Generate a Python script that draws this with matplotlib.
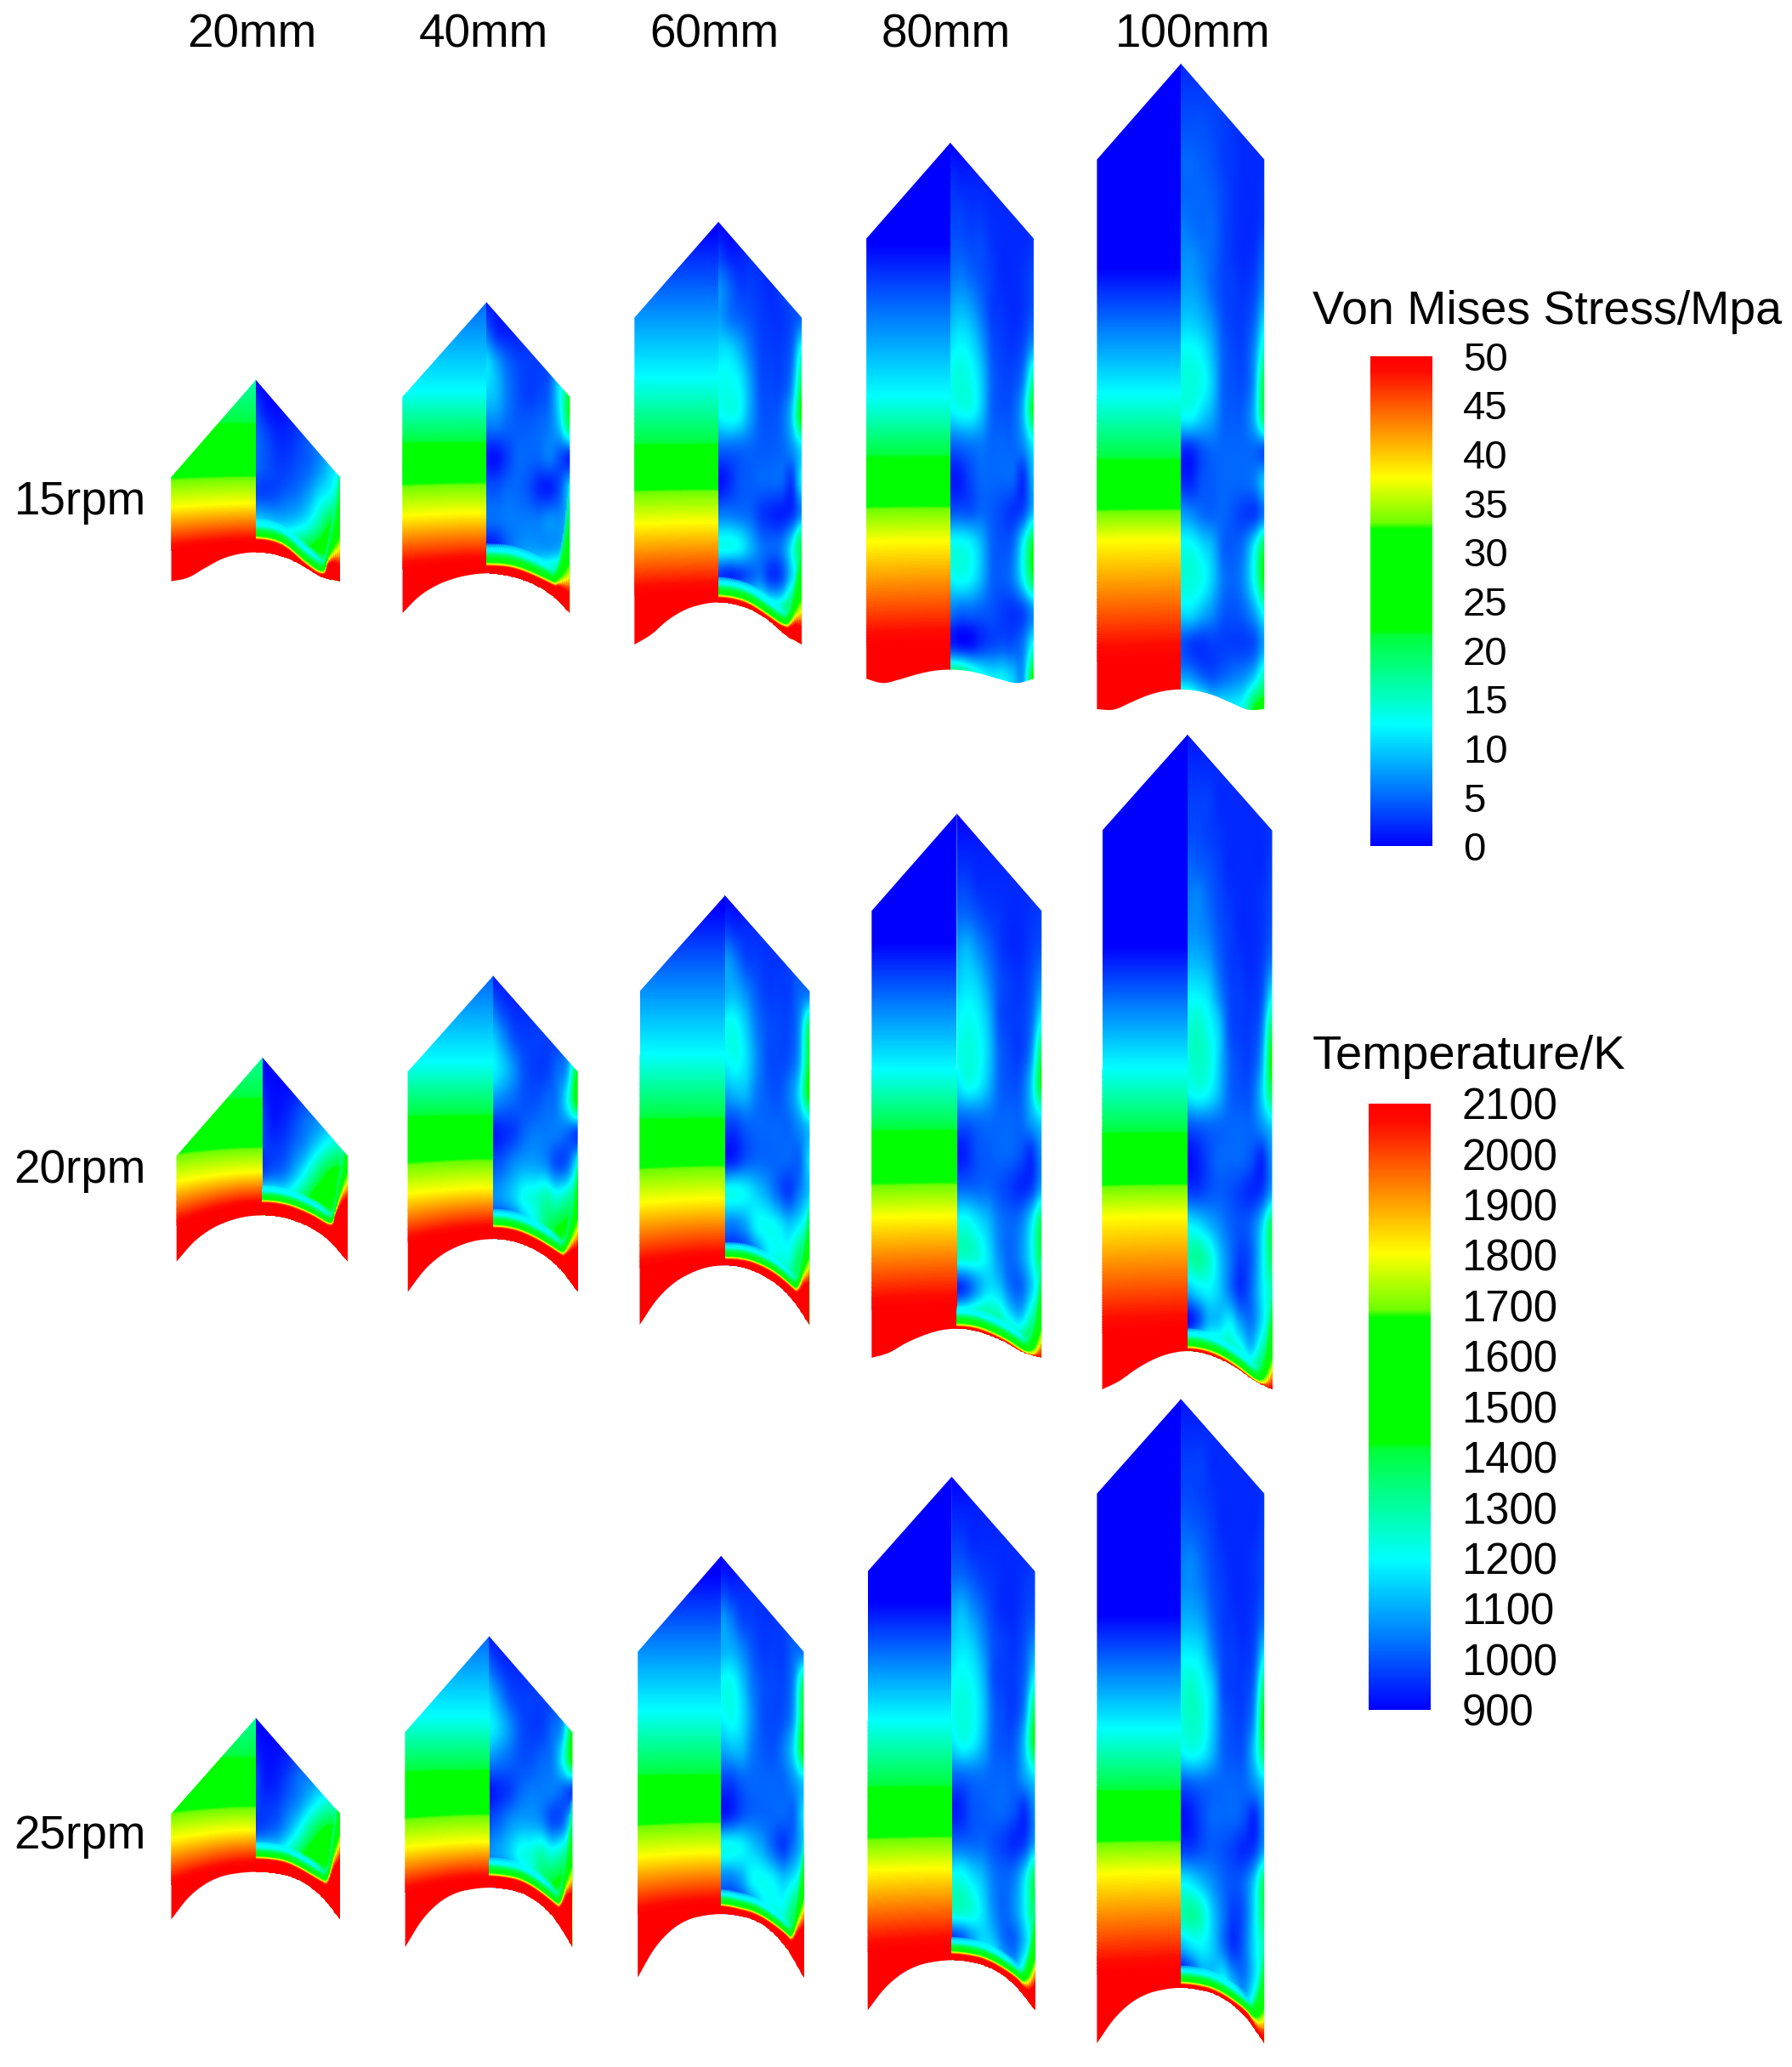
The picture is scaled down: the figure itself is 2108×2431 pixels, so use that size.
import numpy as np
import matplotlib
matplotlib.use('Agg')
import matplotlib.pyplot as plt
from matplotlib.cm import ScalarMappable
from matplotlib.colors import LinearSegmentedColormap, Normalize
from matplotlib.patches import PathPatch
from matplotlib.path import Path

plt.rcParams['font.family'] = ['Liberation Sans', 'DejaVu Sans']

col_labels = ['20mm', '40mm', '60mm', '80mm', '100mm']
row_labels = ['15rpm', '20rpm', '25rpm']
stress_ticks = [0, 5, 10, 15, 20, 25, 30, 35, 40, 45, 50]
temp_ticks = [900, 1000, 1100, 1200, 1300, 1400, 1500, 1600, 1700, 1800, 1900, 2000, 2100]

# panel outline, read in the 1360 wide picture: one line per rpm, one value per length
left_x = [[130, 306, 481, 657, 833], [134, 310, 485, 661, 837], [130, 307, 484, 658, 833]]
center_x = [[194, 369, 545, 721, 896], [199, 374, 550, 726, 901], [194, 371, 547, 722, 896]]
right_x = [[258, 433, 608, 784, 960], [264, 439, 614, 790, 966], [258, 434, 610, 785, 960]]
apex_y = [[288, 229, 168, 108, 48], [802, 740, 679, 617, 557], [1303, 1241, 1180, 1120, 1061]]
shoulder_y = [[362, 301, 241, 181, 121], [877, 813, 752, 691, 630], [1376, 1314, 1253, 1192, 1133]]
corner_y = [[441, 465, 489, 515, 538], [957, 980, 1005, 1030, 1054], [1456, 1477, 1500, 1525, 1550]]
arc_top_y = [[419, 435, 457, 508, 523], [922, 940, 960, 1008, 1025], [1420, 1432, 1452, 1487, 1508]]

# how far the arc has dropped (0 top, 1 corner) at these distances from the centre
arc_u = [0, 0.2, 0.4, 0.6, 0.8, 1]
arc_drop = [
    [[0, .06, .23, .54, .87, 1], [0, .04, .14, .31, .58, 1], [0, .05, .18, .42, .76, 1],
     [0, .13, .52, 1.05, 1.45, 1], [0, .08, .31, .67, 1.02, 1]],
    [[0, .03, .13, .3, .58, 1], [0, .03, .13, .3, .58, 1], [0, .03, .13, .3, .58, 1],
     [0, .06, .24, .5, .83, 1], [0, .06, .22, .47, .78, 1]],
    [[0, .025, .095, .26, .55, 1], [0, .025, .095, .26, .55, 1], [0, .025, .095, .26, .55, 1],
     [0, .03, .11, .28, .57, 1], [0, .03, .11, .28, .57, 1]],
]

# left half: y of the temperature levels on the centre line, bottom to top
temp_levels = [2100, 1800, 1692, 1676, 1400, 1200, 900]
temp_y = [
    [[412, 382, 363, 361, 318, 262, 180], [427, 389, 368, 366, 333, 297, 185], [449, 396, 373, 371, 334, 287, 175],
     [488, 410, 386, 384, 343, 301, 185], [500, 409, 388, 386, 345, 299, 203]],
    [[914, 889, 872, 870, 830, 770, 680], [933, 901, 881, 879, 843, 806, 700], [955, 909, 886, 884, 845, 800, 690],
     [991, 922, 899, 897, 854, 812, 715], [1009, 922, 900, 898, 856, 811, 718]],
    [[1415, 1388, 1372, 1370, 1330, 1270, 1180], [1426, 1397, 1378, 1376, 1340, 1302, 1200],
     [1445, 1405, 1384, 1382, 1343, 1298, 1195], [1477, 1417, 1395, 1393, 1352, 1305, 1215],
     [1495, 1420, 1398, 1396, 1355, 1312, 1225]],
]
temp_bow = [[6, 5, 3, 2, 2], [16, 10, 7, 3, 3], [15, 10, 7.5, 4, 3]]
bow_u = [0, .25, .5, .75, 1]
bow_shape = [0, .08, .3, .62, 1]
bow_level = [1, .45, .3, .3, .1, 0, 0]

# layer along the arc on the stress side: height of the yellow line above the arc
band_u = [0, .3, .6, .8, .86, .93, 1]
band_grow = [1, 1, 1, 1, 1.6, 4, 8]
yellow_height = [
    [[11, 10, 4, 4, 14, 20, 24], [7, 8, 8, 10, 14, 20, 27], [5, 5, 4, 7, 11, 19, 25],
     [0, 0, 0, 0, 0, 0, 0], [0, 0, 0, 0, 0, 0, 0]],
    [[11, 11, 11, 14, 28, 46, 60], [10, 10, 10, 13, 19, 32, 46], [6, 7, 8, 10, 14, 30, 44],
     [3, 3, 2, 1, 1, 3, 13], [3, 3, 2, 1, 1, 4, 14]],
    [[11, 11, 10, 13, 19, 40, 57], [10, 10, 10, 13, 19, 38, 53], [7, 6, 7, 11, 15, 33, 51],
     [6, 6, 6, 8, 9, 16, 31], [4, 4, 4, 6, 6, 9, 17]],
]
band_gap = [[11, 12, 11, 0, 0], [9, 10, 9, 11, 11], [9, 10, 9, 9, 10]]
layer_stress = [50, 50, 37.6, 32.4, 21.7, 12.4, 12.4]
layer_gap = [0, 0, .12, .45, .85, 1.3]
red_drop = 1.5

# right half: stress in MPa, rows from apex to corner, columns from centre to outer edge
s15_20 = [[0, 0, 0, 0, 0, 0, 0, 0, 0],
          [3, 1, .5, 1, 2, 3, 4, 5, 5],
          [5, 3.5, 2, 2, 3, 4.5, 6, 8, 9],
          [5, 4, 3, 3, 4, 5, 7, 10, 12],
          [3.5, 3.5, 4, 5, 6, 8, 11, 13, 17],
          [12, 11, 10, 10, 11, 13, 17, 22, 25],
          [24, 23, 22, 22, 23, 24, 26, 28, 30],
          [28, 28, 28, 28, 28, 28, 28, 28, 28]]
s25_20 = [[0, 0, 0, 0, 0, 0, 0, 0, 0],
          [1, .5, .5, 1, 2, 3, 3, 3, 3],
          [3, 1, 1.5, 3, 5, 6, 7, 8, 9],
          [3, 2.5, 3, 5, 7, 10, 13, 15, 14],
          [4, 5, 6, 9, 13, 18, 22, 24, 24],
          [20, 18, 16, 18, 22, 26, 28, 30, 32],
          [24, 24, 24, 26, 28, 30, 30, 30, 38],
          [35, 35, 35, 35, 35, 35, 35, 35, 35]]
s15_40 = [[1, 1, 1, 1, 1, 1, 1, 1, 1],
          [5, 2, 1.5, 1.5, 2, 3, 5, 7, 9],
          [11, 8, 5, 3.5, 3, 3, 4, 10, 12],
          [10, 9, 6, 4, 3, 3.5, 5, 12, 22],
          [6, 6, 5, 4.5, 4.5, 5, 6, 10, 20],
          [1, 1, 3, 5, 5, 5, 6, 4, 2],
          [4, 4, 5, 5, 4, 2, 1.5, 4, 10],
          [5.5, 5.5, 6, 6, 6, 6, 7, 7, 9],
          [1, 2, 5, 7, 8, 8, 8, 9, 12],
          [12, 12, 12, 12, 14, 18, 22, 24, 28],
          [28, 28, 28, 28, 28, 28, 28, 28, 28]]
s25_40 = [[1, 1, 1, 1, 1, 1, 1, 1, 1],
          [5, 3, 2, 2, 2, 3, 3, 4, 5],
          [10, 7, 4, 3, 3, 3, 3, 5, 6],
          [12, 10, 7, 4, 3, 3, 5, 8, 22],
          [7, 6, 5, 4, 4, 5, 6, 12, 24],
          [1, 2, 3, 5, 6, 6, 6, 5, 3],
          [4, 5, 7, 8, 8, 7, 4, 5, 12],
          [7, 8, 10, 13, 14, 16, 14, 16, 20],
          [3, 3, 6, 10, 14, 19, 22, 24, 28],
          [24, 24, 24, 24, 24, 25, 25, 27, 38],
          [28, 28, 28, 28, 28, 28, 28, 28, 28]]
s15_60 = [[0, 0, 0, 0, 0, 0, 0, 0, 0],
          [3, 1.5, 1.5, 2, 2, 2, 3, 3, 4],
          [7, 5, 3, 3, 2.5, 2, 3, 4, 5],
          [8, 6, 5, 4, 3, 2.5, 2.5, 3.5, 5],
          [11, 11, 9, 6, 3.5, 3, 3, 5, 14],
          [13, 13, 12, 8, 4, 3.5, 3.5, 7, 20],
          [12, 13, 12, 8, 4.5, 4, 5, 10, 24],
          [5, 5, 5, 5, 4.5, 4.5, 5, 7, 11],
          [.5, 2, 4, 4.5, 5, 5, 5, 3, 12],
          [6, 6, 5.5, 5, 3, 2, 1.5, 2.5, 7],
          [13, 13, 12, 9, 6, 5, 6, 12, 24],
          [3, 2, 3, 5, 6, 3, 4, 11, 16],
          [24, 24, 24, 22, 20, 18, 18, 24, 30],
          [32, 32, 32, 32, 32, 32, 32, 32, 32]]
s25_60 = [[0, 0, 0, 0, 0, 0, 0, 0, 0],
          [3, 2, 2, 2, 2, 2, 3, 4, 4],
          [8, 6, 3.5, 3, 2.5, 2.5, 3, 4, 5],
          [9, 9, 7, 4.5, 3, 3, 3, 5, 6],
          [13, 13, 10, 6, 4, 3.5, 3.5, 7, 20],
          [12, 13, 11, 7, 4, 3.5, 4, 8, 22],
          [8, 9, 9, 6, 4.5, 4, 6, 11, 24],
          [3, 3, 4.5, 5, 5, 5, 5, 7, 10],
          [1, 2, 4, 5, 5, 5, 5, 5, 11],
          [13, 13, 12, 10, 8, 5, 3, 6, 10],
          [6, 6, 8, 12, 13, 12, 10, 12, 16],
          [3, 3, 4, 7, 12, 14, 14, 20, 26],
          [24, 24, 24, 24, 24, 24, 20, 24, 30],
          [30, 30, 30, 30, 30, 30, 30, 30, 30]]
s15_80 = [[0, 0, 0, 0, 0, 0, 0, 0, 0],
          [2, 1.5, 1.5, 1.5, 1.5, 1.5, 1.5, 2, 2],
          [3, 3, 2.5, 2.5, 2, 2, 2, 2, 2],
          [4, 4, 3.5, 3.5, 2.5, 2, 2, 2, 2.5],
          [5.5, 6, 5, 4, 3, 2, 2, 2.5, 3.5],
          [8, 9, 8, 5.5, 3, 2.5, 2, 2.5, 4],
          [11, 12, 11, 8, 4, 3, 2.5, 3.5, 7],
          [13, 14, 13, 10, 5, 3.5, 3.5, 6, 16],
          [12, 13, 13, 10, 5, 4, 4.5, 9, 22],
          [5, 5.5, 6, 6, 5, 5, 5, 7, 12],
          [1, 1.5, 3.5, 5, 5, 5, 5, 2.5, 9],
          [4, 4, 4, 5, 4.5, 3.5, 2.5, 3.5, 9],
          [13, 13, 12, 9, 5, 4, 5, 12, 22],
          [12, 13, 12, 9, 5, 4.5, 6, 12, 21],
          [6, 5, 5, 4.5, 4, 3, 2.5, 3.5, 7],
          [2, 1, 1, 2.5, 3.5, 4, 4, 6, 13],
          [22, 22, 18, 14, 12, 12, 10, 8, 24]]
s25_80 = [[0, 0, 0, 0, 0, 0, 0, 0, 0],
          [1.5, 1.5, 1.5, 1.5, 1.5, 1.5, 2, 2, 2],
          [3, 3, 2, 2, 2, 2, 2, 2, 2],
          [5, 5, 4, 3, 2.5, 2, 2, 2.5, 3],
          [8, 9, 7, 5, 3, 2, 2, 3, 4],
          [10, 11, 10, 7, 4, 3, 2.5, 4, 7],
          [12, 13, 12, 9, 4, 3, 3, 5, 12],
          [13, 14, 13, 10, 5, 3.5, 3, 7, 20],
          [11, 13, 12, 9, 5, 4, 4.5, 10, 23],
          [5, 5, 5.5, 5.5, 5, 5, 5, 8, 11],
          [1, 2, 4, 4.5, 5, 5, 4, 2.5, 7],
          [5, 5, 5, 5, 4, 3, 2, 3, 8],
          [13, 13, 11, 9, 6, 5, 6, 11, 20],
          [15, 15, 14, 11, 7, 5, 7, 12, 21],
          [2, 4, 8, 11, 10, 6, 5, 10, 16],
          [22, 22, 22, 20, 18, 14, 12, 18, 26],
          [30, 30, 30, 30, 30, 30, 30, 30, 30]]
s15_100 = [[2, 2, 2, 2, 2, 2, 2, 2, 2],
           [3, 3, 3, 3, 3, 2, 2, 2, 2],
           [4, 4, 4, 3.5, 3, 2.5, 2, 2, 2],
           [5, 5, 4.5, 4, 3, 2.5, 2, 2, 2],
           [5, 5, 5, 4.5, 3.5, 2.5, 2, 2, 2.5],
           [6, 5.5, 5, 5, 3.5, 2.5, 2, 2, 3],
           [7, 7, 6, 5, 3.5, 2.5, 2, 2.5, 5],
           [8, 8, 7, 5, 3.5, 3, 2.5, 3.5, 7],
           [10, 10, 9, 7, 4, 3, 3, 5, 11],
           [13, 13, 12, 9, 5, 3.5, 3.5, 7, 16],
           [14, 14, 13, 10, 5, 4, 4, 8, 22],
           [12, 12, 10, 8, 5, 4.5, 5, 9, 20],
           [2, 2, 4, 5, 5, 5, 5, 5, 4],
           [2, 2, 4, 4.5, 5, 5, 5, 6, 10],
           [8, 7, 5.5, 5, 5, 4, 3, 3, 6],
           [13, 13, 11, 9, 5, 4.5, 6, 12, 21],
           [14, 14, 13, 10, 6, 5, 7, 13, 23],
           [11, 11, 9, 7, 4.5, 4, 5, 8, 13],
           [4, 3, 2.5, 3, 3, 3, 3, 4, 8],
           [8, 7, 5, 4, 5, 6, 7, 10, 16],
           [22, 20, 16, 12, 12, 12, 14, 22, 25]]
s25_100 = [[1, 1, 1, 1, 1, 1, 1, 1, 1],
           [2, 2, 2, 2, 2, 2, 2, 2, 2],
           [3, 3, 3, 2, 2, 2, 2, 2, 2],
           [3.5, 3.5, 3, 2.5, 2, 2, 2, 2, 2.5],
           [5, 4.5, 4, 3, 2, 2, 2, 2, 3],
           [6, 6.5, 5, 3.5, 2.5, 2, 2, 2.5, 3.5],
           [7, 7, 6, 4, 3, 2, 2, 2.5, 4],
           [9, 9, 8, 5, 3, 2.5, 2, 3, 6],
           [12, 12, 11, 7, 3.5, 3, 2.5, 4, 12],
           [14, 15, 13, 10, 4, 3, 3, 6, 20],
           [14, 15, 14, 10, 5, 3.5, 3.5, 8, 24],
           [12, 13, 12, 9, 5, 4, 4.5, 10, 20],
           [4, 4.5, 5, 5, 5, 5, 5, 7, 10],
           [.5, 1.5, 3.5, 5, 5, 5, 4, 2, 7],
           [3, 3, 4, 4.5, 4, 3, 2, 3, 8],
           [12, 11, 9, 7, 5, 4, 5, 10, 20],
           [16, 17, 15, 10, 6, 3, 4.5, 11, 20],
           [9, 11, 12, 10, 6, 2.5, 5, 11, 16],
           [1, 4, 9, 10, 12, 8, 6, 11, 18],
           [24, 24, 22, 20, 18, 16, 12, 18, 25],
           [30, 30, 30, 30, 30, 30, 30, 30, 30]]
stress_grids = [[s15_20, s15_40, s15_60, s15_80, s15_100],
                [s25_20, s25_40, s25_60, s25_80, s25_100],
                [s25_20, s25_40, s25_60, s25_80, s25_100]]

# colour scale, fractions of the bar from the bottom
rainbow = LinearSegmentedColormap.from_list('rainbow_bar', [
    (0, (0, 0, 1)), (.248, (0, 1, 1)), (.43, (0, 1, .22)), (.44, (0, 1, 0)), (.647, (0, 1, 0)),
    (.66, (.43, 1, 0)), (.752, (1, 1, 0)), (.97, (1, .04, 0)), (1, (1, 0, 0))], N=1024)
stress_norm = Normalize(0, 50)
temp_norm = Normalize(900, 2100)
temp_fill = np.linspace(899, 2101, 361)

W, H = 1360, 1568


def smooth_curve(u_pts, y_pts):
    # smooth line through the read points (Catmull-Rom), half arc from the centre out
    u_pts = [-u_pts[1]] + list(u_pts) + [2 - u_pts[-2]]
    y_pts = [y_pts[1]] + list(y_pts) + [2 * y_pts[-1] - y_pts[-2]]
    us, ys = [], []
    for i in range(1, len(u_pts) - 2):
        t = np.linspace(0, 1, 12, endpoint=False)[:, None]
        p = np.array([[u_pts[i + k], y_pts[i + k]] for k in range(-1, 3)])
        c = 0.5 * (2 * p[1] + (p[2] - p[0]) * t + (2 * p[0] - 5 * p[1] + 4 * p[2] - p[3]) * t ** 2
                   + (3 * p[1] - p[0] - 3 * p[2] + p[3]) * t ** 3)
        us.extend(c[:, 0])
        ys.extend(c[:, 1])
    us.append(u_pts[-2])
    ys.append(y_pts[-2])
    return np.array(us), np.array(ys)


def clip_patch(ax, xs, ys):
    verts = np.column_stack([xs, ys])
    return PathPatch(Path(np.vstack([verts, verts[0]]), closed=True), transform=ax.transData)


def draw_panel(ax, r, c):
    cx, hw = center_x[r][c], (right_x[r][c] - left_x[r][c]) / 2
    top, sh, cor, arc = apex_y[r][c], shoulder_y[r][c], corner_y[r][c], arc_top_y[r][c]
    u, drop = smooth_curve(arc_u, arc_drop[r][c])
    y_arc = arc + drop * (cor - arc)

    # left half, temperature
    left = clip_patch(ax, np.r_[cx + .5, cx - hw, cx - hw, cx - u[::-1] * hw, cx + .5],
                      np.r_[top, sh, cor, y_arc[::-1], arc])
    levels = [2100] + temp_levels + [900]
    ys = np.array([cor + 40] + temp_y[r][c] + [-200.0])
    shape = np.array([1] + bow_level + [0])
    xm = cx - np.array(bow_u) * hw
    X = np.tile(xm, (len(ys), 1))
    Y = ys[:, None] + temp_bow[r][c] * shape[:, None] * np.array(bow_shape)[None, :]
    Z = np.tile(np.array(levels, dtype=float)[:, None], (1, len(xm)))
    cs = ax.contourf(X, Y, Z, levels=temp_fill, cmap=rainbow, norm=temp_norm)
    cs.set_clip_path(left)

    # right half, stress
    right = clip_patch(ax, np.r_[cx, cx + hw, cx + hw, cx + u[::-1] * hw], np.r_[top, sh, cor, y_arc[::-1]])
    grid = np.array(stress_grids[r][c], dtype=float)
    dx = hw / (grid.shape[1] - 1)
    dy = (cor - top) / (grid.shape[0] - 1)
    im = ax.imshow(grid, cmap=rainbow, norm=stress_norm, aspect='auto', interpolation='catrom',
                   interpolation_stage='data',
                   extent=(cx - dx / 2, cx + hw + dx / 2, cor + dy / 2, top - dy / 2))
    im.set_clip_path(right)

    # layer along the arc
    if band_gap[r][c] > 0:
        uu, hh = smooth_curve(band_u, yellow_height[r][c])
        yellow = np.maximum(np.interp(u, uu, hh), 0)
        grow = np.interp(u, band_u, band_grow)
        n = len(layer_stress)
        off = np.zeros((len(u), n))
        off[:, 0] = -8
        off[:, 1] = np.maximum(yellow - red_drop * grow, 0)
        for k in range(2, n):
            off[:, k] = yellow + layer_gap[k - 1] * band_gap[r][c] * grow
        BX = np.tile((cx + u * hw)[:, None], (1, n))
        BY = y_arc[:, None] - off
        rgba = rainbow(stress_norm(np.tile(layer_stress, (len(u), 1))))
        rgba[:, -1, 3] = 0
        rgba[:, -2, 3] = np.clip((0.85 - u) / 0.2, 0, 1)
        band = ax.pcolormesh(BX, BY, rgba, shading='gouraud')
        band.set_clip_path(right)


fig = plt.figure(figsize=(21.08, 24.31), dpi=100)
ax = fig.add_axes([0, 0, 1, 1])

for r in range(3):
    for c in range(5):
        draw_panel(ax, r, c)

ax.set_xlim(0, W)
ax.set_ylim(H, 0)
ax.axis('off')

for label, x in zip(col_labels, [191, 367, 542, 718, 905]):
    ax.text(x, 27, label, fontsize=39.5, ha='center', va='center', color='black')
for label, y in zip(row_labels, [381, 888, 1393]):
    ax.text(111, y, label, fontsize=39.5, ha='right', va='center', color='black')
ax.text(996, 237, 'Von Mises Stress/Mpa', fontsize=40, ha='left', va='center', color='black')
ax.text(996, 802, 'Temperature/K', fontsize=40.5, ha='left', va='center', color='black')


def bar(x0, x1, y0, y1, norm, ticks, size):
    cax = fig.add_axes([x0 / W, 1 - y1 / H, (x1 - x0) / W, (y1 - y0) / H])
    cb = fig.colorbar(ScalarMappable(norm=norm, cmap=rainbow), cax=cax, ticks=ticks)
    cb.outline.set_visible(False)
    cax.tick_params(length=0, pad=26, labelsize=size)
    return cb


bar(1040, 1087, 270, 642, stress_norm, stress_ticks, 34)
bar(1039, 1086, 837, 1297, temp_norm, temp_ticks, 36.5)

plt.savefig('out.png', dpi=100)
plt.close()
